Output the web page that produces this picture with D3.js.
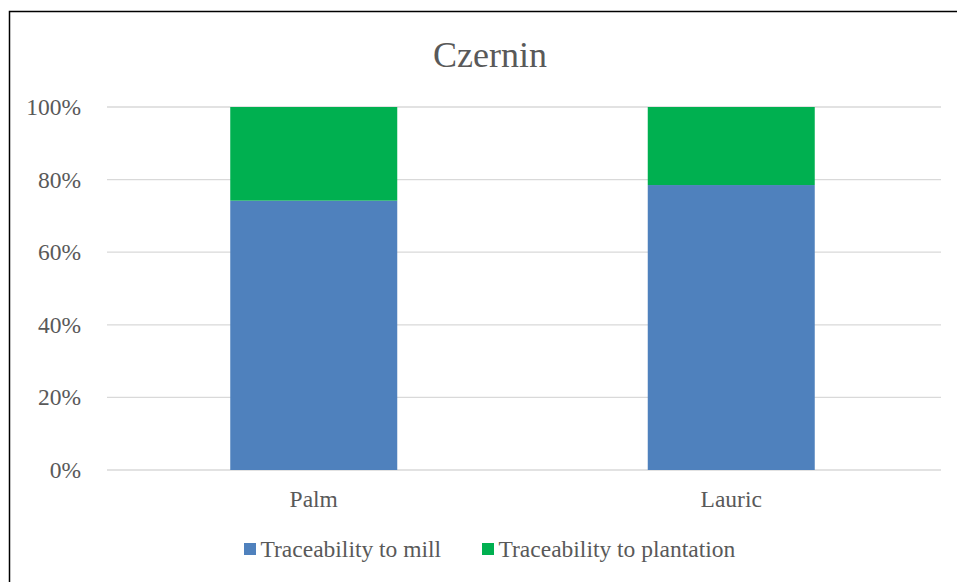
<!DOCTYPE html>
<html>
<head>
<meta charset="utf-8">
<script src="https://cdn.jsdelivr.net/npm/d3@7"></script>
<style>
  body { margin: 0; background: #fff; }
</style>
</head>
<body>
<svg width="957" height="582"></svg>
<script>
const categories = ['Palm', 'Lauric'];
const millShare = [0.742, 0.785];
const plantationShare = [0.258, 0.215];
const seriesNames = ['Traceability to mill', 'Traceability to plantation'];
const seriesColors = ['#4F81BD', '#00B050'];
const yTicks = [0, 0.2, 0.4, 0.6, 0.8, 1];

const serif = "'Liberation Serif', Tinos, 'Times New Roman', Times, serif";
const textColor = '#595959';
const svg = d3.select('svg').attr('font-family', serif);

// outer chart frame (runs past the right and bottom edges)
svg.append('rect')
    .attr('x', 9.5).attr('y', 11.5)
    .attr('width', 980).attr('height', 600)
    .attr('fill', 'none')
    .attr('stroke', '#000')
    .attr('stroke-width', 1.5);

const plotLeft = 105, plotRight = 940, plotTop = 107, plotBottom = 470;

const x = d3.scaleBand()
    .domain(categories)
    .range([plotLeft, plotRight])
    .paddingInner(0.6)
    .paddingOuter(0.3);

const y = d3.scaleLinear().domain([0, 1]).range([plotBottom, plotTop]);

// gridlines
svg.append('g')
    .selectAll('line')
    .data(yTicks)
    .enter()
    .append('line')
    .attr('x1', plotLeft + 2).attr('x2', plotRight + 1)
    .attr('y1', d => y(d)).attr('y2', d => y(d))
    .attr('stroke', '#d9d9d9')
    .attr('stroke-width', 1.3);

// y tick labels
svg.append('g')
    .selectAll('text')
    .data(yTicks)
    .enter()
    .append('text')
    .attr('x', 81)
    .attr('y', d => y(d))
    .attr('dy', '0.34em')
    .attr('text-anchor', 'end')
    .attr('fill', textColor)
    .attr('font-size', 23.5)
    .text(d => d3.format('.0%')(d));

// stacked bars
const rows = categories.map((c, i) => ({ cat: c, mill: millShare[i], plantation: plantationShare[i] }));
const stacked = d3.stack().keys(['mill', 'plantation'])(rows);

svg.append('g')
    .selectAll('g')
    .data(stacked)
    .enter()
    .append('g')
    .attr('fill', (d, i) => seriesColors[i])
    .selectAll('rect')
    .data(d => d)
    .enter()
    .append('rect')
    .attr('x', d => x(d.data.cat))
    .attr('width', x.bandwidth())
    .attr('y', d => y(d[1]))
    .attr('height', d => y(d[0]) - y(d[1]));

// category labels
svg.append('g')
    .selectAll('text')
    .data(categories)
    .enter()
    .append('text')
    .attr('x', d => x(d) + x.bandwidth() / 2)
    .attr('y', 507)
    .attr('text-anchor', 'middle')
    .attr('fill', textColor)
    .attr('font-size', 23.5)
    .text(d => d);

// title
svg.append('text')
    .attr('x', 490).attr('y', 67)
    .attr('text-anchor', 'middle')
    .attr('fill', textColor)
    .attr('font-size', 36)
    .text('Czernin');

// legend
const legendX = [244, 482];
const legend = svg.append('g')
    .selectAll('g')
    .data(seriesNames)
    .enter()
    .append('g')
    .attr('transform', (d, i) => `translate(${legendX[i]},549)`);

legend.append('rect')
    .attr('x', 0).attr('y', -6)
    .attr('width', 12).attr('height', 12)
    .attr('fill', (d, i) => seriesColors[i]);

legend.append('text')
    .attr('x', 16.5)
    .attr('dy', '0.34em')
    .attr('fill', textColor)
    .attr('font-size', 23.5)
    .text(d => d);
</script>
</body>
</html>
